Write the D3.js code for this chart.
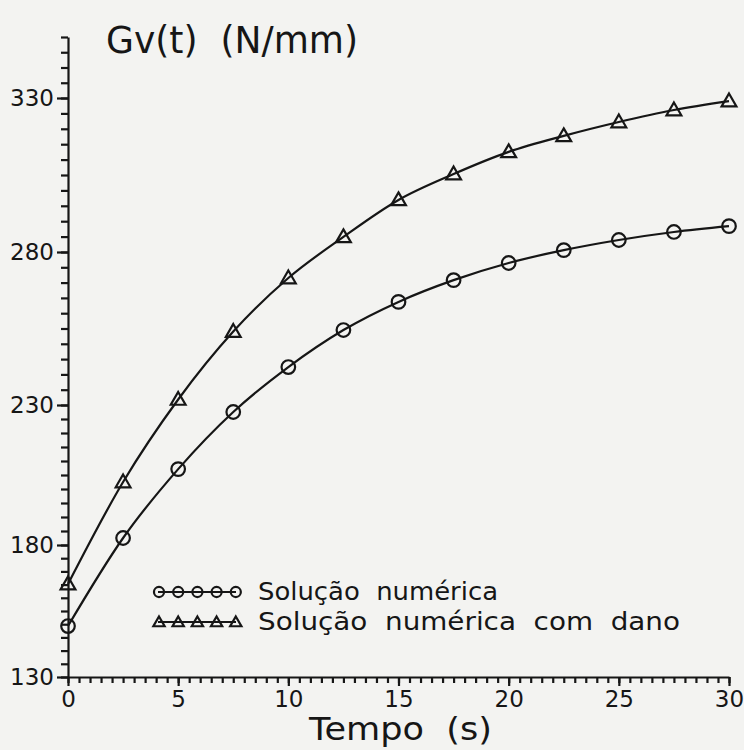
<!DOCTYPE html>
<meta charset="utf-8">
<style>
body { margin: 0; background: #f3f3f1; }
svg { display: block; }
text { font-family: "DejaVu Sans", sans-serif; fill: #161616; }
.axis path, .axis line { stroke: #161616; stroke-width: 2.2px; }
.axis text { font-size: 23px; }
.curve { fill: none; stroke: #161616; stroke-width: 2.2px; }
.mark { fill: none; stroke: #161616; stroke-width: 2.2px; }
</style>
<body>
<script src="https://d3js.org/d3.v7.min.js"></script>
<script>
    let width = 744,
        height = 750;

    // tempo (s)
    const tempo = [0, 2.5, 5, 7.5, 10, 12.5, 15, 17.5, 20, 22.5, 25, 27.5, 30];
    // Gv(t) - solucao numerica
    const semDano = [149.3, 182.5, 207.1, 227.5, 242.4, 254.5, 263.7, 270.8, 276.4, 280.6, 283.9, 286.5, 288.4];
    // Gv(t) - solucao numerica com dano
    const comDano = [165.2, 202.5, 231.8, 254.0, 271.5, 284.9, 296.9, 305.3, 312.5, 317.7, 322.2, 326.1, 329.0];

    const xTicks = [0, 5, 10, 15, 20, 25, 30];
    const yTicks = [130, 180, 230, 280, 330];
    const legendLabels = ["Solução numérica", "Solução numérica com dano"];

    let svg = d3.select("body").append("svg")
                .attr("width", width)
                .attr("height", height);

    // the scanned page is a bit stretched, so the y scale follows the printed ticks
    let x = d3.scaleLinear().domain([0, 30]).range([68, 729]),
        y = d3.scaleLinear()
                .domain([130, 180, 230, 280, 330, 350])
                .range([677, 545, 405, 252, 98, 37]);

    // x axis
    svg.append("g")
        .attr("class", "axis")
        .attr("transform", `translate(0,${y(130)})`)
        .call(d3.axisBottom(x).tickValues(d3.range(0, 30.01, 0.5)).tickSize(6).tickFormat(""))
        .call(g => g.select(".domain").remove());
    svg.append("g")
        .attr("class", "axis")
        .attr("transform", `translate(0,${y(130)})`)
        .call(d3.axisBottom(x).tickValues(xTicks).tickSize(9).tickSizeOuter(0).tickPadding(1))
        .call(g => g.selectAll("text").attr("dy", "0.85em"));

    // y axis
    svg.append("g")
        .attr("class", "axis")
        .attr("transform", `translate(${x(0)},0)`)
        .call(d3.axisLeft(y).tickValues(d3.range(130, 350.01, 5)).tickSize(7).tickFormat(""))
        .call(g => g.select(".domain").remove());
    svg.append("g")
        .attr("class", "axis")
        .attr("transform", `translate(${x(0)},0)`)
        .call(d3.axisLeft(y).tickValues(yTicks).tickSize(11).tickSizeOuter(0).tickPadding(3))
        .call(g => g.selectAll("text").attr("font-size", 24));

    // titles
    svg.append("text")
        .attr("x", 106)
        .attr("y", 53)
        .attr("font-size", 37)
        .attr("textLength", 252)
        .attr("lengthAdjust", "spacingAndGlyphs")
        .attr("xml:space", "preserve")
        .text("Gv(t)  (N/mm)");

    svg.append("text")
        .attr("x", 309)
        .attr("y", 740)
        .attr("font-size", 32)
        .attr("textLength", 183)
        .attr("lengthAdjust", "spacingAndGlyphs")
        .attr("xml:space", "preserve")
        .text("Tempo  (s)");

    let line = d3.line()
        .x(d => x(d[0]))
        .y(d => y(d[1]))
        .curve(d3.curveMonotoneX);

    let series = [
        {name: legendLabels[0], values: semDano, shape: "circle"},
        {name: legendLabels[1], values: comDano, shape: "triangle"}
    ];

    let circleSym = d3.symbol().type(d3.symbolCircle),
        triSym = d3.symbol().type(d3.symbolTriangle);

    series.forEach(s => {
        let pts = tempo.map((t, i) => [t, s.values[i]]);
        svg.append("path")
            .attr("class", "curve")
            .attr("d", line(pts));

        svg.append("g")
            .selectAll("path")
            .data(pts)
            .join("path")
                .attr("class", "mark")
                .attr("transform", d => `translate(${x(d[0])},${y(d[1]) + (s.shape == "triangle" ? 1 : 0)})`)
                .attr("d", s.shape == "circle" ? circleSym.size(145)() : triSym.size(95)());
    });

    // legend
    const legend_g = svg.append("g").attr("transform", "translate(158,592)");
    series.forEach((s, i) => {
        let g = legend_g.append("g").attr("transform", `translate(0,${i * 30})`);
        g.append("line")
            .attr("class", "curve")
            .attr("x1", 0).attr("x2", 78)
            .attr("y1", 0).attr("y2", 0);
        g.selectAll("path")
            .data(d3.range(5))
            .join("path")
                .attr("class", "mark")
                .attr("transform", k => `translate(${k * 19.2 + 1},${s.shape == "triangle" ? 1 : 0})`)
                .attr("d", s.shape == "circle" ? circleSym.size(80)() : triSym.size(55)());
        g.append("text")
            .attr("x", 100)
            .attr("y", 8)
            .attr("font-size", 24)
            .attr("textLength", i == 0 ? 240 : 422)
            .attr("lengthAdjust", "spacingAndGlyphs")
            .attr("xml:space", "preserve")
            .text(i == 0 ? "Solução  numérica" : "Solução  numérica  com  dano");
    });
</script>
</body>
